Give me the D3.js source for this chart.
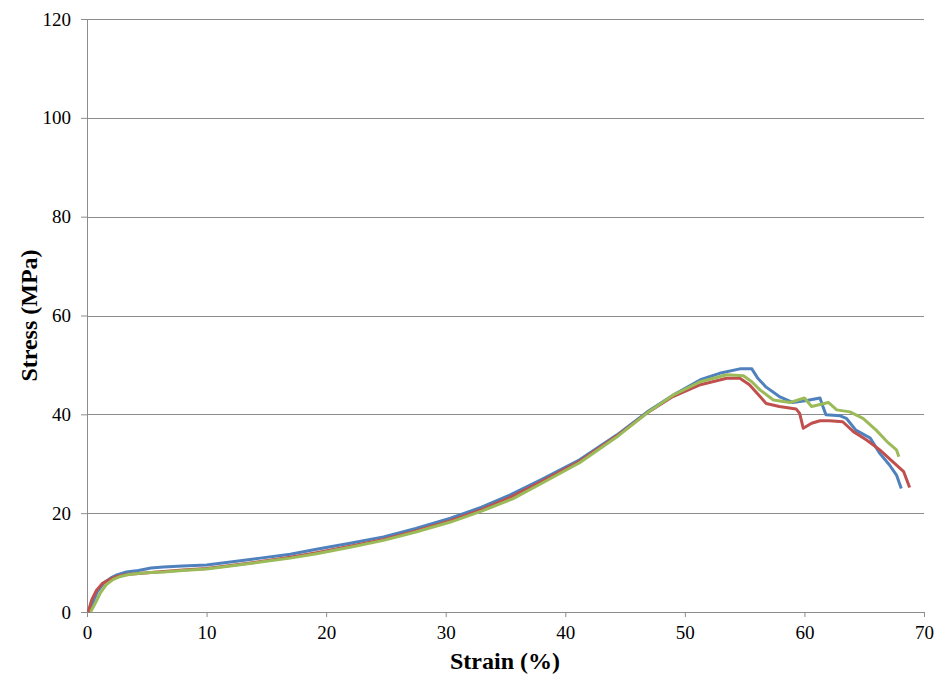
<html>
<head>
<script src="https://d3js.org/d3.v7.min.js"></script>
<style>
  body { margin: 0; background: #fff; }
</style>
</head>
<body>
<div id="chart"></div>
<script>
// tick values
const xTicks = [0, 10, 20, 30, 40, 50, 60, 70];
const yTicks = [0, 20, 40, 60, 80, 100, 120];

// specimen 1 (blue)
const strainA = [0.1,0.5,0.84,1.42,2.0,2.5,3.3,4.3,5.35,6.4,8,10,12,14.5,17,19.2,22,24.8,27.5,30.4,33,35.4,38,41.2,44.3,46.8,49.1,51.3,52.9,54.6,55.6,56.1,56.8,57.9,59.0,60.2,61.3,61.5,61.8,63.0,63.5,64.3,65.5,66.3,67.1,67.7,68.1];
const stressA = [0,2.0,4.0,5.9,6.9,7.5,8.1,8.4,8.9,9.1,9.3,9.5,10.1,10.9,11.7,12.7,13.9,15.2,16.9,19.0,21.2,23.7,26.8,30.8,35.8,40.4,44.0,47.0,48.3,49.2,49.2,47.3,45.5,43.6,42.4,42.8,43.3,41.9,39.9,39.7,39.2,36.8,35.2,32.1,29.8,27.7,25.0];

// specimen 2 (red)
const strainB = [0.1,0.4,0.8,1.3,2.0,2.5,3.3,4.3,5.35,6.4,8,10,12,14.5,17,19.2,22,24.8,27.5,30.4,33,35.4,38,41.2,44.3,46.8,49.0,51.3,53.5,54.6,55.4,56.1,56.8,57.9,59.3,59.6,59.9,60.6,61.3,62.1,63.2,64.1,65.2,66.3,67.4,68.3,68.8];
const stressB = [0,2.5,4.4,5.8,6.7,7.2,7.6,7.8,8.0,8.2,8.5,8.8,9.4,10.2,11.1,12.0,13.3,14.7,16.4,18.5,20.7,23.2,26.4,30.5,35.6,40.2,43.6,46.0,47.3,47.3,46.0,44.1,42.2,41.6,41.1,40.2,37.2,38.2,38.7,38.7,38.5,36.5,34.8,32.8,30.4,28.4,25.2];

// specimen 3 (green)
const strainC = [0.3,0.7,1.1,1.6,2.2,2.8,3.5,4.3,5.35,6.4,8,10,12,14.5,17,19.2,22,24.8,27.5,30.4,33,35.6,38,41.2,44.3,46.8,49.1,51.3,53.5,54.9,55.6,56.3,57.4,58.8,60.0,60.6,62.0,62.7,63.8,64.9,66.0,66.9,67.7,67.9];
const stressC = [0,1.8,3.8,5.5,6.6,7.2,7.6,7.8,8.0,8.1,8.4,8.7,9.3,10.1,10.9,11.8,13.1,14.5,16.2,18.2,20.4,22.9,26.0,30.2,35.4,40.2,44.0,46.6,48.0,47.8,46.6,44.9,42.9,42.4,43.3,41.6,42.4,40.9,40.5,39.2,36.8,34.5,32.8,31.4];

const series = [
  { x: strainA, y: stressA, color: "#4F81BD" },
  { x: strainB, y: stressB, color: "#C0504D" },
  { x: strainC, y: stressC, color: "#9BBB59" }
];

const W = 939, H = 681;
const margin = { top: 19, right: 15, bottom: 69, left: 87 };
const width = W - margin.left - margin.right;
const height = H - margin.top - margin.bottom;

const svg = d3.select("#chart").append("svg")
  .attr("width", W).attr("height", H);
const g = svg.append("g")
  .attr("transform", "translate(" + margin.left + "," + margin.top + ")");

const x = d3.scaleLinear().domain([0, 70]).range([0, width]);
const y = d3.scaleLinear().domain([0, 120]).range([height, 0]);

// gridlines
g.selectAll(".grid").data(yTicks.filter(d => d > 0)).enter()
  .append("line")
  .attr("x1", 0).attr("x2", width)
  .attr("y1", d => Math.round(y(d)) + 0.5).attr("y2", d => Math.round(y(d)) + 0.5)
  .attr("stroke", "#8c8c8c").attr("stroke-width", 1);

// y axis
const yAxis = g.append("g")
  .call(d3.axisLeft(y).tickValues(yTicks).tickSize(6).tickPadding(10));
// x axis
const xAxis = g.append("g")
  .attr("transform", "translate(0," + height + ")")
  .call(d3.axisBottom(x).tickValues(xTicks).tickSize(5).tickPadding(9));

[yAxis, xAxis].forEach(a => {
  a.attr("font-family", "Liberation Serif").attr("font-size", 19);
  a.select(".domain").attr("stroke", "#8c8c8c");
  a.selectAll(".tick line").attr("stroke", "#8c8c8c");
  a.selectAll(".tick text").attr("fill", "#000");
});

// curves
const line = d3.line().x(d => x(d[0])).y(d => y(d[1]));
series.forEach(s => {
  g.append("path")
    .datum(s.x.map((v, i) => [v, s.y[i]]))
    .attr("fill", "none")
    .attr("stroke", s.color)
    .attr("stroke-width", 3)
    .attr("stroke-linejoin", "round")
    .attr("d", line);
});

// axis titles
svg.append("text")
  .attr("x", 505).attr("y", 669)
  .attr("text-anchor", "middle")
  .attr("font-family", "Liberation Serif")
  .attr("font-size", 24).attr("font-weight", "bold")
  .text("Strain (%)");

svg.append("text")
  .attr("transform", "translate(37," + (margin.top + height / 2) + ") rotate(-90)")
  .attr("text-anchor", "middle")
  .attr("font-family", "Liberation Serif")
  .attr("font-size", 24).attr("font-weight", "bold")
  .text("Stress (MPa)");
</script>
</body>
</html>
